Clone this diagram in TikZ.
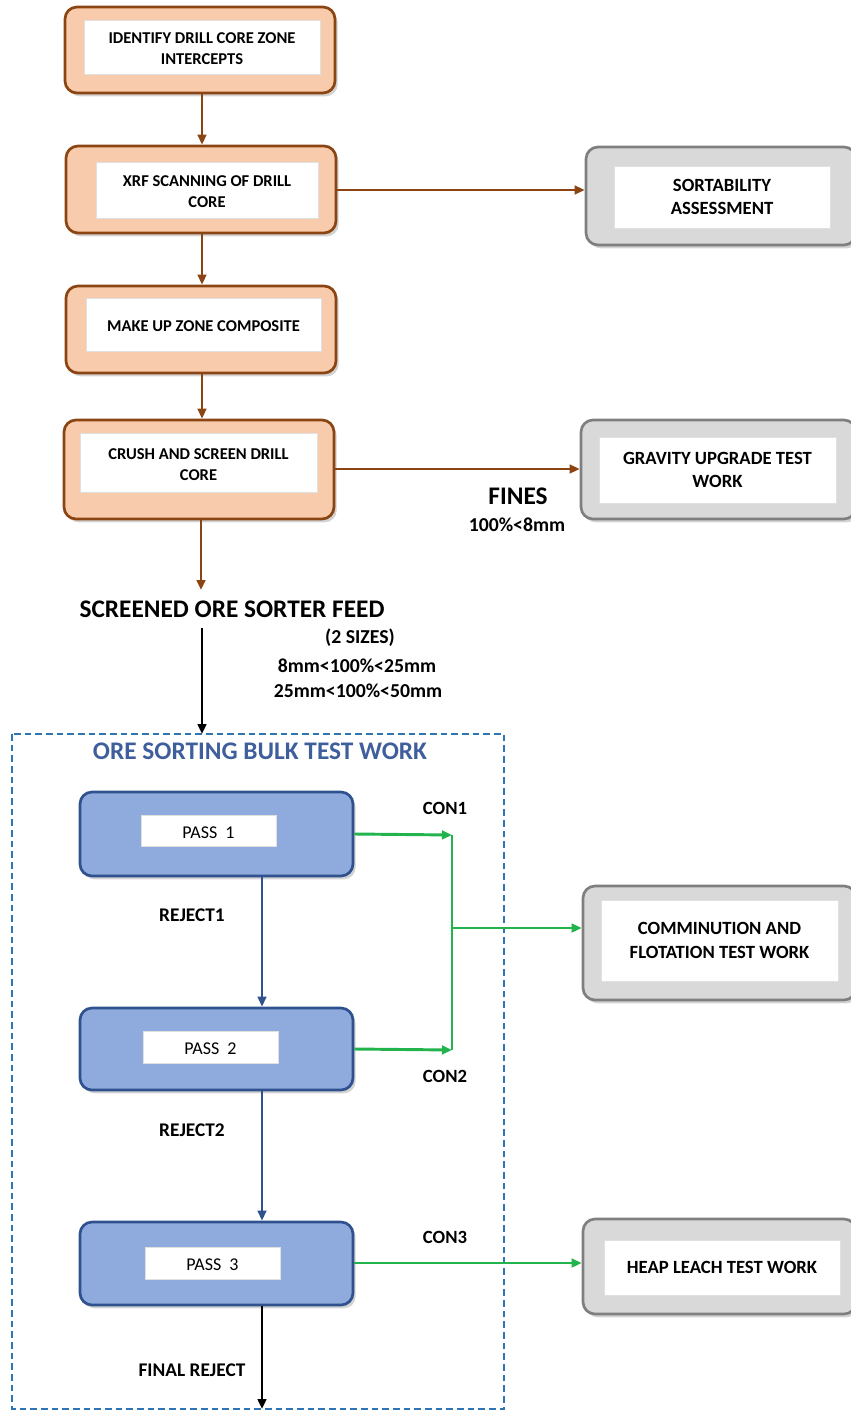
\documentclass[tikz,border=0pt]{standalone}
\usepackage{fontspec}
\setmainfont{Carlito}
\usetikzlibrary{arrows.meta,fit,shadows}
\definecolor{orfill}{HTML}{F8CBAD}
\definecolor{ordraw}{HTML}{8B4513}
\definecolor{brn}{HTML}{8B4513}
\definecolor{gyfill}{HTML}{D9D9D9}
\definecolor{gydraw}{HTML}{7F7F7F}
\definecolor{blfill}{HTML}{8FAADC}
\definecolor{bldraw}{HTML}{2F528F}
\definecolor{grn}{HTML}{22B34C}
\definecolor{dashc}{HTML}{2E75B6}
\definecolor{ttl}{HTML}{3F5E9C}
\tikzset{
  shd/.style={drop shadow={shadow xshift=2pt,shadow yshift=-2.5pt,opacity=0.35}},
  obox/.style={rectangle,rounded corners=9pt,line width=2pt,inner sep=0pt,shd},
  orbox/.style={obox,draw=ordraw,fill=orfill},
  gybox/.style={obox,draw=gydraw,fill=gyfill},
  blbox/.style={obox,draw=bldraw,fill=blfill},
  wbox/.style={rectangle,fill=white,draw=black!12,line width=0.6pt,inner sep=0pt},
  otxt/.style={inner sep=0pt,align=center,yshift=-1.5pt,font=\fontsize{12.4}{15.6}\selectfont\bfseries},
  gtxt/.style={inner sep=0pt,align=center,font=\fontsize{14}{17.5}\selectfont\bfseries},
  ptxt/.style={inner sep=0pt,yshift=-1.5pt,font=\fontsize{13.5}{15}\selectfont},
  tip/.style={-{Triangle[length=7.5pt,width=6.5pt]}},
  brarrow/.style={draw=brn,line width=2.2pt,tip},
  grarrow/.style={draw=grn,line width=2.2pt,tip},
  blarrow/.style={draw=bldraw,line width=1.6pt,tip},
  bkarrow/.style={draw=black,line width=1.8pt,tip},
  lbl/.style={font=\fontsize{14}{16}\selectfont\bfseries,inner sep=0pt},
  rlbl/.style={font=\fontsize{14.5}{16}\selectfont\bfseries,inner sep=0pt},
  szlbl/.style={font=\fontsize{14.8}{16}\selectfont\bfseries,inner sep=0pt},
  big/.style={font=\fontsize{19}{21}\selectfont\bfseries,inner sep=0pt},
}
\begin{document}
\begin{tikzpicture}[x=0.75pt,y=-0.75pt]
\useasboundingbox (0,0) rectangle (850,1412);
% dashed container
\draw[dashc,dashed,line width=1.2pt,dash pattern=on 5pt off 3pt] (12,734) rectangle (504,1409);
% orange boxes
\node[orbox,fit={(65,7)(335,93)}] (b1) {};
\node[wbox,fit={(84,20)(320,74)}] (w1) {};
\node[otxt] (t1) at (w1.center) {IDENTIFY DRILL CORE ZONE\\INTERCEPTS};
\node[orbox,fit={(66,146)(336,233)}] (b2) {};
\node[wbox,fit={(96,162)(318,218)}] (w2) {};
\node[otxt] (t2) at (w2.center) {XRF SCANNING OF DRILL\\CORE};
\node[orbox,fit={(66,286)(336,373)}] (b3) {};
\node[wbox,fit={(86,298)(321,351)}] (w3) {};
\node[otxt] (t3) at (w3.center) {MAKE UP ZONE COMPOSITE};
\node[orbox,fit={(64,420)(334,519)}] (b4) {};
\node[wbox,fit={(80,433)(317,492)}] (w4) {};
\node[otxt] (t4) at (w4.center) {CRUSH AND SCREEN DRILL\\CORE};
% gray boxes
\node[gybox,fit={(586,147)(856,245)}] (g1) {};
\node[wbox,fit={(614,166)(830,228)}] (gw1) {};
\node[gtxt] (gt1) at (gw1.center) {SORTABILITY\\ASSESSMENT};
\node[gybox,fit={(581,420)(856,519)}] (g2) {};
\node[wbox,fit={(599,437)(836,503)}] (gw2) {};
\node[gtxt] (gt2) at (gw2.center) {GRAVITY UPGRADE TEST\\WORK};
\node[gybox,fit={(583,886)(856,1000)}] (g3) {};
\node[wbox,fit={(601,900)(838,981)}] (gw3) {};
\node[gtxt] (gt3) at (gw3.center) {COMMINUTION AND\\FLOTATION TEST WORK};
\node[gybox,fit={(583,1219)(856,1314)}] (g4) {};
\node[wbox,fit={(604,1240)(840,1295)}] (gw4) {};
\node[gtxt] (gt4) at (gw4.center) {HEAP LEACH TEST WORK};
% blue boxes
\node[blbox,fit={(80,792)(353,876)}] (p1) {};
\node[wbox,fit={(141,815)(276,846)}] (pw1) {};
\node[ptxt] (pt1) at (pw1.center) {PASS\hspace{0.45em}1};
\node[blbox,fit={(80,1008)(353,1090)}] (p2) {};
\node[wbox,fit={(143,1031)(278,1063)}] (pw2) {};
\node[ptxt] (pt2) at (pw2.center) {PASS\hspace{0.45em}2};
\node[blbox,fit={(80,1222)(353,1305)}] (p3) {};
\node[wbox,fit={(145,1247)(280,1279)}] (pw3) {};
\node[ptxt] (pt3) at (pw3.center) {PASS\hspace{0.45em}3};
% texts
\node[big] (feed) at (232,609) {SCREENED ORE SORTER FEED};
\coordinate (feedtop) at (201,590);
\node[szlbl] (sz0) at (360,638) {(2 SIZES)};
\node[szlbl] (sz1) at (357,666) {8mm<100\%<25mm};
\node[szlbl] (sz2) at (358,691) {25mm<100\%<50mm};
\node[big,text=ttl] (ttl) at (260,751) {ORE SORTING BULK TEST WORK};
\node[big] (fines) at (518,496) {FINES};
\node[szlbl] (fsz) at (517,525) {100\%<8mm};
\node[lbl] (c1) at (445,808) {CON1};
\node[lbl] (c2) at (445,1076) {CON2};
\node[lbl] (c3) at (445,1237) {CON3};
\node[rlbl] (r1) at (192,915) {REJECT1};
\node[rlbl] (r2) at (192,1130) {REJECT2};
\node[rlbl] (fr) at (192,1370) {FINAL REJECT};
\coordinate (boxtop) at (202,734);
\coordinate (j1) at (452,835);
\coordinate (j2) at (452,1050);
\coordinate (jm) at (452,928);
\coordinate (bot) at (262,1409);
% brown connectors
\draw[brarrow] (b1.south -| 202,0) -- (b2.north -| 202,0);
\draw[brarrow] (b2.south -| 202,0) -- (b3.north -| 202,0);
\draw[brarrow] (b3.south -| 202,0) -- (b4.north -| 202,0);
\draw[brarrow] (b2.east |- 0,190) -- (g1.west |- 0,190);
\draw[brarrow] (b4.east |- 0,469) -- (g2.west |- 0,469);
\draw[brarrow] (b4.south -| 201,0) -- (feedtop);
% black feed arrow
\draw[bkarrow] (202,628) -- (boxtop);
% blue rejects
\draw[blarrow] (p1.south -| 262,0) -- (p2.north -| 262,0);
\draw[blarrow] (p2.south -| 262,0) -- (p3.north -| 262,0);
\draw[bkarrow] (p3.south -| 262,0) -- (bot);
% green
\draw[grarrow] (p1.east |- 0,834) -- (j1);
\draw[grarrow] (p2.east |- 0,1049) -- (j2);
\draw[draw=grn,line width=2.2pt] (j1) -- (j2);
\draw[grarrow] (jm) -- (g3.west |- jm);
\draw[grarrow] (p3.east |- 0,1263) -- (g4.west |- 0,1263);
\end{tikzpicture}
\end{document}
